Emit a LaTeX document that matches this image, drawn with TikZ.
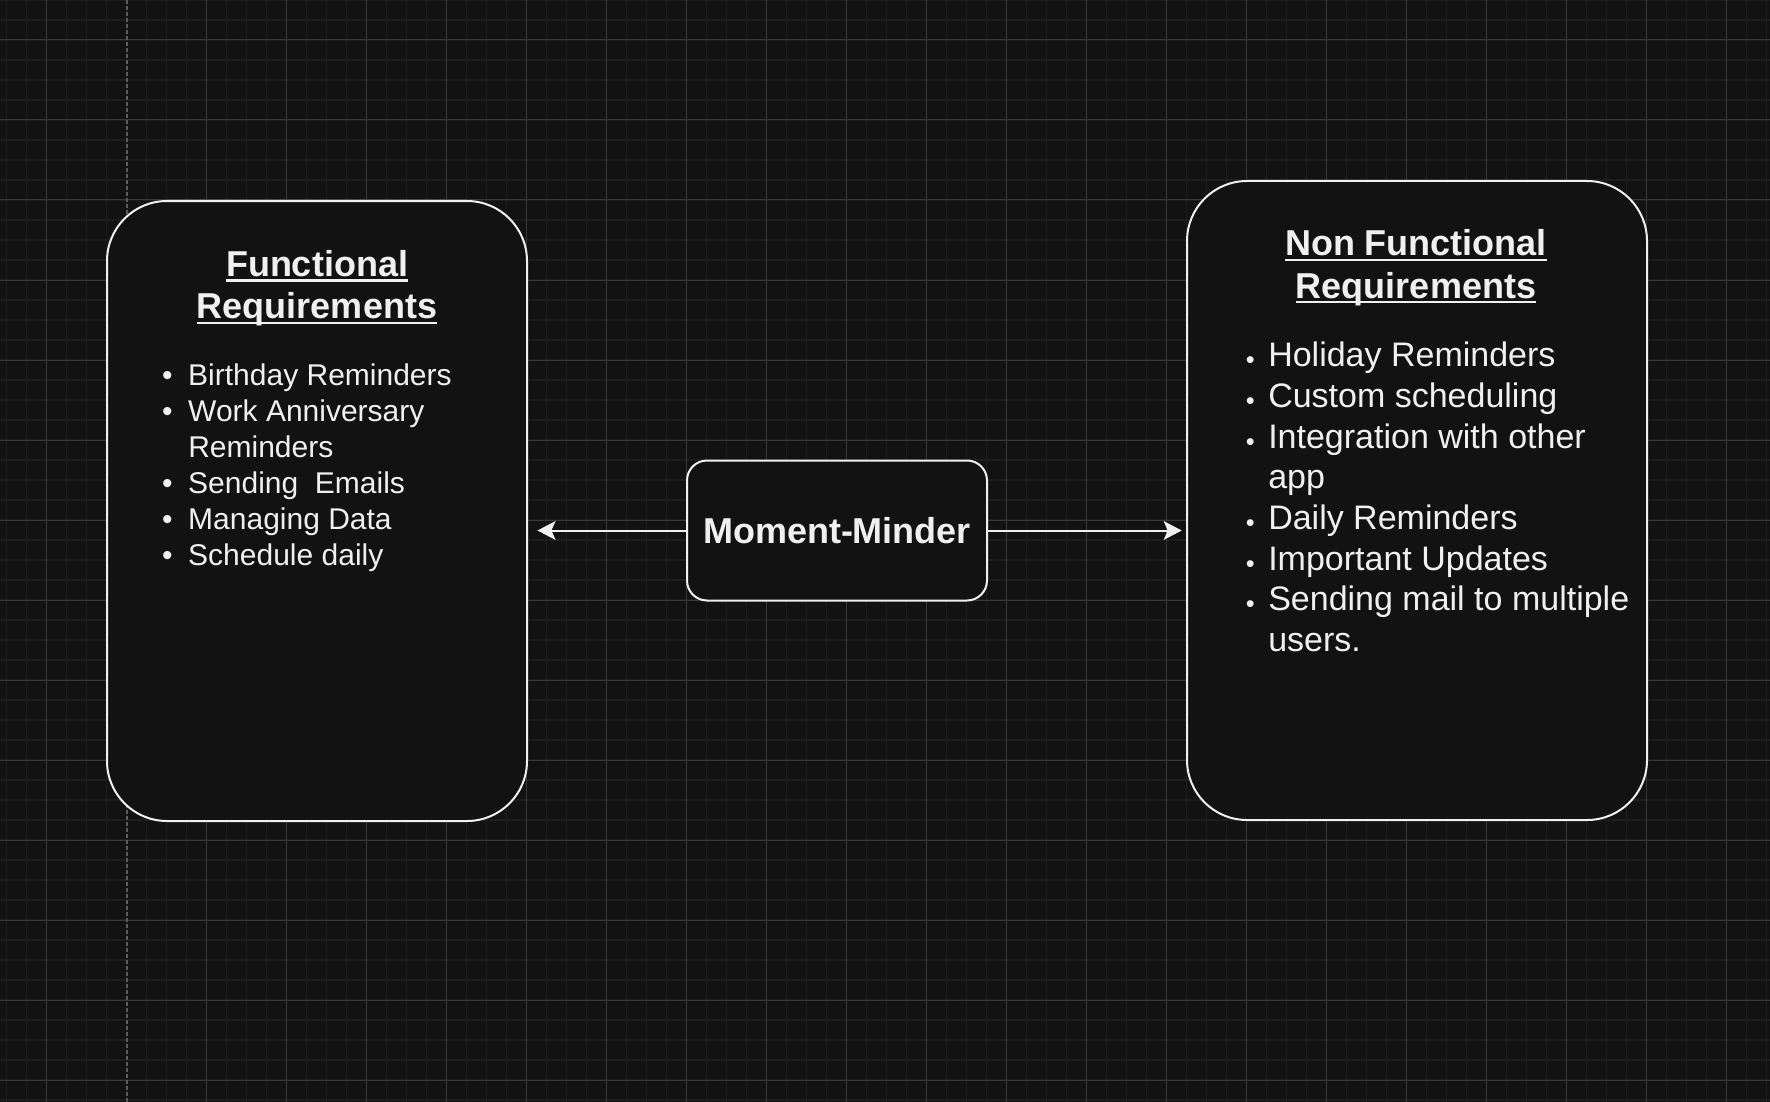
\documentclass[tikz,border=0pt]{standalone}
\usepackage{fontspec}
\setmainfont{Liberation Sans}
\usepackage{tikz}
\usetikzlibrary{arrows.meta,positioning}
\definecolor{bgdark}{HTML}{121212}
\definecolor{gridminor}{HTML}{1D1D1D}
\definecolor{gridmajor}{HTML}{393939}
\definecolor{pagedash}{HTML}{5C5C5C}
\definecolor{inkwhite}{HTML}{F0F0F0}
\newcommand{\ulhead}[1]{\setbox0\hbox{#1}\rlap{\rule[-4.1pt]{\wd0}{1.6pt}}\box0}
\newcommand{\bul}{\textbullet}
\newcommand{\sbul}{\raisebox{-1.5pt}{\fontsize{19}{19}\selectfont\textbullet}}

\begin{document}
\begin{tikzpicture}[x=0.75pt,y=-0.75pt,box/.style={draw=inkwhite,fill=bgdark,line width=1.5pt,rounded corners=45pt,inner sep=0pt},mid/.style={draw=inkwhite,fill=bgdark,line width=1.5pt,rounded corners=15pt,minimum width=225pt,minimum height=105pt,inner sep=0pt,text=inkwhite,font=\fontsize{27}{32}\selectfont\bfseries},head/.style={text=inkwhite,align=center,inner sep=0pt,anchor=base,font=\fontsize{27}{31.7}\selectfont\bfseries},lst/.style={text=inkwhite,inner sep=0pt,anchor=base west},a/.style={-{Stealth[length=13.5pt,width=14pt,inset=3pt]},line width=1.5pt,inkwhite}]
\useasboundingbox (0,0) rectangle (1770,1102);
\fill[bgdark] (0,0) rectangle (1770,1102);
% grid
\foreach \x in {6.5,26.5,...,1770} \draw[gridminor,line width=1.2pt] (\x,0) -- (\x,1102);
\foreach \y in {0,20,...,1102} \draw[gridminor,line width=1.2pt] (0,\y) -- (1770,\y);
\foreach \x in {206.5,286.5,...,1770} \draw[gridmajor,line width=0.75pt] (\x,0) -- (\x,1102);
\draw[gridmajor,line width=0.75pt] (46.5,0) -- (46.5,1102);
\foreach \y in {40,120,...,1102} \draw[gridmajor,line width=0.75pt] (0,\y) -- (1770,\y);
\draw[pagedash,line width=1.5pt,dash pattern=on 3pt off 1.5pt] (126.5,0) -- (126.5,1102);
% boxes
\node[box,minimum width=315pt,minimum height=465pt] (fr) at (317,511) {};
\node[box,minimum width=345pt,minimum height=479.25pt] (nfr) at (1417,500.5) {};
\node[mid] (mm) at (837,530.5) {Moment-Minder};
\node[head] (frh) at (317,318.3) {\ulhead{Functional}\\\ulhead{Requirements}};
\node[head] (nfrh) at (1416,298) {\ulhead{Non Functional}\\\ulhead{Requirements}};
\node[lst,font=\fontsize{22.5}{27}\selectfont] (frl) at (146,385) {\begin{tabular}[t]{@{}l@{}l@{}}
\makebox[31.5pt]{\bul} & Birthday Reminders\\
\makebox[31.5pt]{\bul} & Work Anniversary\\
 & Reminders\\
\makebox[31.5pt]{\bul} & Sending\ \ Emails\\
\makebox[31.5pt]{\bul} & Managing Data\\
\makebox[31.5pt]{\bul} & Schedule daily\end{tabular}};
\node[lst,font=\fontsize{25.5}{30.5}\selectfont] (nfrl) at (1232,366.7) {\begin{tabular}[t]{@{}l@{}l@{}}
\makebox[27pt]{\sbul} & Holiday Reminders\\
\makebox[27pt]{\sbul} & Custom scheduling\\
\makebox[27pt]{\sbul} & Integration with other\\
 & app\\
\makebox[27pt]{\sbul} & Daily Reminders\\
\makebox[27pt]{\sbul} & Important Updates\\
\makebox[27pt]{\sbul} & Sending mail to multiple\\
 & users.\end{tabular}};
% links
\draw[a,shorten >=7.1pt] (mm.west) -- (mm.west -| fr.east);
\draw[a,shorten >=3.2pt] (mm.east) -- (mm.east -| nfr.west);
\end{tikzpicture}
\end{document}
